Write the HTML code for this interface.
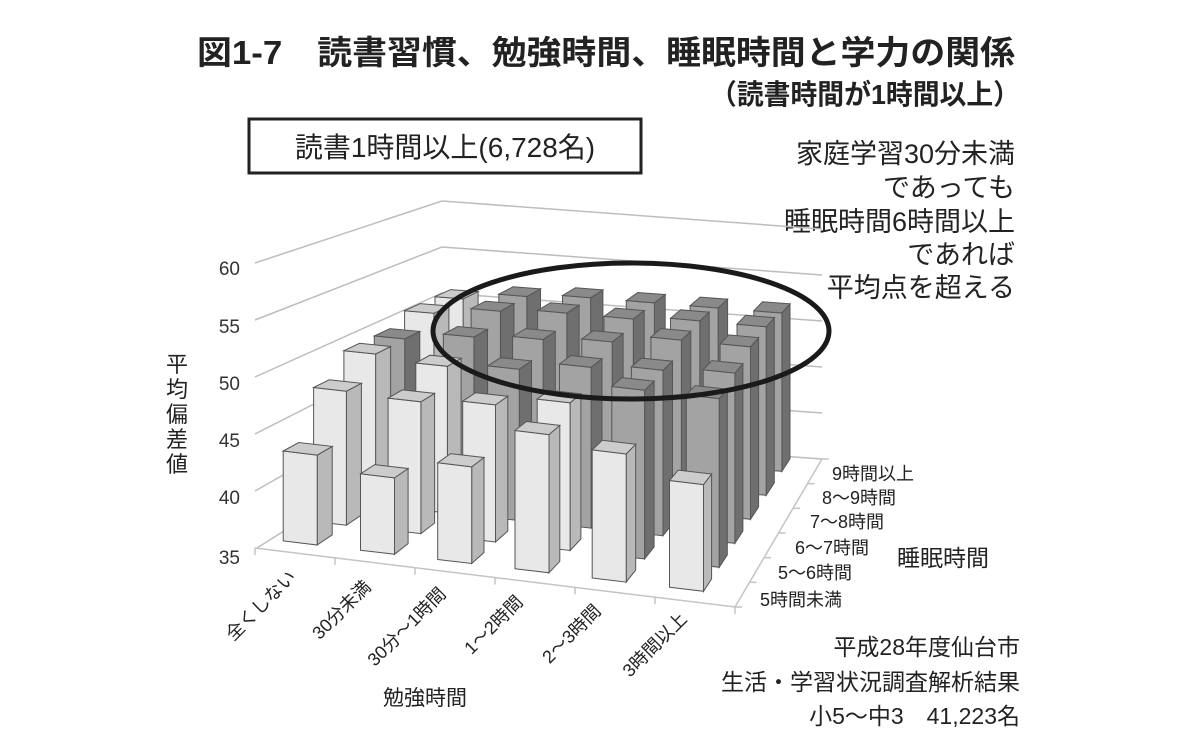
<!DOCTYPE html>
<html><head><meta charset="utf-8"><style>
html,body{margin:0;padding:0;background:#fff;}
svg{display:block;font-family:"Liberation Sans","Noto Sans CJK JP",sans-serif;}
</style></head><body>
<svg id="s" width="1200" height="741" viewBox="0 0 1200 741" xmlns="http://www.w3.org/2000/svg">
<rect width="1200" height="741" fill="#fff"/>
<text x="197" y="64" font-size="33" font-weight="bold" fill="#222" textLength="818" lengthAdjust="spacingAndGlyphs">図1-7　読書習慣、勉強時間、睡眠時間と学力の関係</text>
<text x="710" y="104" font-size="28" font-weight="bold" fill="#222" textLength="310" lengthAdjust="spacingAndGlyphs">（読書時間が1時間以上）</text>
<rect x="249" y="119" width="392" height="54" fill="none" stroke="#222" stroke-width="3"/>
<text x="445" y="157" font-size="28" fill="#222" text-anchor="middle">読書1時間以上(6,728名)</text>
<g font-size="27" fill="#222" text-anchor="end">
<text x="1015" y="163">家庭学習30分未満</text>
<text x="1015" y="197">であっても</text>
<text x="1015" y="231">睡眠時間6時間以上</text>
<text x="1015" y="264">であれば</text>
<text x="1015" y="297">平均点を超える</text>
</g>
<g id="chart"></g>
<g font-size="19" fill="#333" text-anchor="end">
<text x="240" y="275">60</text><text x="240" y="333">55</text><text x="240" y="390">50</text>
<text x="240" y="447">45</text><text x="240" y="504">40</text><text x="240" y="564">35</text>
</g>
<g font-size="22" fill="#222" text-anchor="middle">
<text x="177" y="372">平</text><text x="177" y="397">均</text><text x="177" y="422">偏</text><text x="177" y="447">差</text><text x="177" y="472">値</text>
</g>
<g font-size="18" fill="#222" text-anchor="end">
<text transform="translate(297,578) rotate(-45)">全くしない</text>
<text transform="translate(372,588) rotate(-45)">30分未満</text>
<text transform="translate(447,595) rotate(-45)">30分～1時間</text>
<text transform="translate(524,603) rotate(-45)">1～2時間</text>
<text transform="translate(602,612) rotate(-45)">2～3時間</text>
<text transform="translate(688,620) rotate(-45)">3時間以上</text>
</g>
<text x="383" y="705" font-size="21" fill="#222">勉強時間</text>
<g font-size="18" fill="#222">
<text x="832" y="480">9時間以上</text>
<text x="822" y="504">8～9時間</text>
<text x="810" y="528">7～8時間</text>
<text x="795" y="554">6～7時間</text>
<text x="778" y="579">5～6時間</text>
<text x="760" y="606">5時間未満</text>
</g>
<text x="897" y="566" font-size="23" fill="#222">睡眠時間</text>
<g font-size="23" fill="#222" text-anchor="end">
<text x="1020" y="655">平成28年度仙台市</text>
<text x="1020" y="690">生活・学習状況調査解析結果</text>
<text x="1020" y="724">小5～中3　41,223名</text>
</g>
<ellipse id="ell" cx="631" cy="331" rx="198" ry="68" fill="none" stroke="#1a1a1a" stroke-width="5"/>
</svg>
<script>
(function(){
var F0=[255,548],F1=[735,607],B0=[442,431],B1=[822,459];
function P(u,d,v){
 var fx=F0[0]+(F1[0]-F0[0])*u, fy=F0[1]+(F1[1]-F0[1])*u;
 var bx=B0[0]+(B1[0]-B0[0])*u, by=B0[1]+(B1[1]-B0[1])*u;
 var x=fx+(bx-fx)*d, y=fy+(by-fy)*d;
 var s=11.4-2.2*d;
 return [x, y-(v-35)*s];
}
function pts(a){return a.map(function(p){return p[0].toFixed(1)+","+p[1].toFixed(1)}).join(" ");}
var h="";
var vals=[35,40,45,50,55,60];
vals.forEach(function(v){
 var a=P(0,0,v),b=P(0,1,v),c=P(1,1,v);
 if(v===35){a=[a[0]+2,a[1]];}
 h+='<polyline points="'+pts([a,b,c])+'" fill="none" stroke="#bdbdbd" stroke-width="1.5"/>';
});
var f0=P(0,0,35),f1=P(1,0,35),b1=P(1,1,35);
h+='<polyline points="'+pts([f0,f1,b1])+'" fill="none" stroke="#c4c4c4" stroke-width="1.5"/>';
for(var k=0;k<=6;k++){var p=P(k/6,0,35);h+='<line x1="'+p[0]+'" y1="'+p[1]+'" x2="'+p[0]+'" y2="'+(p[1]+7)+'" stroke="#c4c4c4" stroke-width="1.5"/>';
 var q=P(1,k/6,35);h+='<line x1="'+q[0]+'" y1="'+q[1]+'" x2="'+(q[0]+7)+'" y2="'+q[1]+'" stroke="#c4c4c4" stroke-width="1.5"/>';}
var V=[
[43,47.7,51,52,54,54.5],
[41.8,47.5,50.5,53,55,55.5],
[43.6,48,51,53.5,55.5,56],
[47.3,49,52,54,55.5,56],
[46.4,51,52.5,55,56,56],
[44.5,51,53,55,56,56]];
var K=[1,0.97,0.9,0.85,0.82,0.8];
function light(i,j){
 if(j===0) return true;
 if(j===1 && i<=3) return true;
 if(i===0 && j!==3) return true;
 if(i===1 && j===2) return true;
 return false;
}
for(var j=5;j>=0;j--){
 for(var i=0;i<6;i++){
  var u0=0.03+i*0.1635,u1=u0+0.072,d0=0.075+j*0.165,d1=d0+0.085,v=35+(V[i][j]-35)*K[j];
  var L=light(i,j);
  var cf=L?"#e8e8e8":"#a3a3a3", cr=L?"#b9b9b9":"#6f6f6f", ct=L?"#cccccc":"#8a8a8a";
  var front=[P(u0,d0,35),P(u1,d0,35),P(u1,d0,v),P(u0,d0,v)];
  var right=[P(u1,d0,35),P(u1,d1,35),P(u1,d1,v),P(u1,d0,v)];
  var top=[P(u0,d0,v),P(u1,d0,v),P(u1,d1,v),P(u0,d1,v)];
  h+='<polygon points="'+pts(right)+'" fill="'+cr+'" stroke="#555" stroke-width="1"/>';
  h+='<polygon points="'+pts(front)+'" fill="'+cf+'" stroke="#555" stroke-width="1"/>';
  h+='<polygon points="'+pts(top)+'" fill="'+ct+'" stroke="#555" stroke-width="1"/>';
 }
}
document.getElementById("chart").innerHTML=h;
})();
</script>
</body></html>
